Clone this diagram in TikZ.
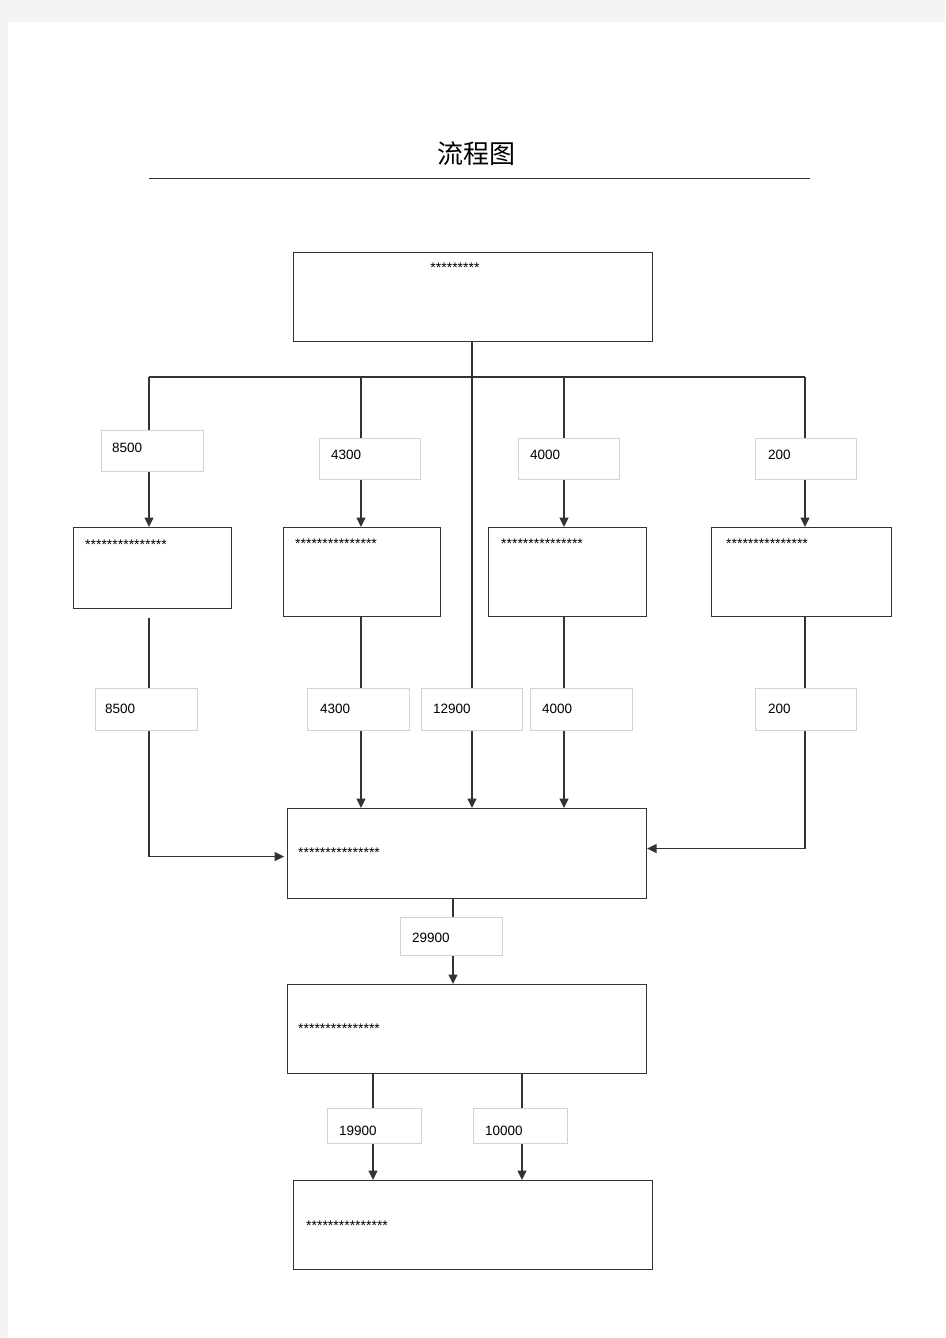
\documentclass[tikz,border=0pt]{standalone}
\usepackage{fontspec}
\setmainfont{Liberation Sans}
\newfontfamily\cjk{Noto Sans CJK SC}
\usetikzlibrary{arrows.meta,calc}
\definecolor{ln}{HTML}{333333}
\definecolor{lb}{HTML}{D2D2D2}
\definecolor{bg}{HTML}{F3F3F3}
\begin{document}
\begin{tikzpicture}[x=1pt,y=-1pt,
 box/.style={draw=ln,line width=1.1pt,anchor=north west,inner sep=0pt},
 lab/.style={draw=lb,fill=white,line width=0.9pt,anchor=north west,inner sep=0pt},
 num/.style={anchor=base west,inner sep=0pt,font=\fontsize{13.5}{15}\selectfont},
 stars/.style={anchor=base west,inner sep=0pt,font=\fontsize{14}{15}\selectfont},
 wire/.style={draw=ln,line width=1.4pt},
 arr/.style={wire,-{Triangle[length=9.5pt,width=9pt]}}]
\fill[bg] (0,0) rectangle (945,1338);
\fill[white] (8,22) rectangle (945,1338);
\useasboundingbox (0,0) rectangle (945,1338);

% title
\node[font=\cjk\fontsize{26}{28}\selectfont,inner sep=0pt] (title) at (476,154) {流程图};
\coordinate (rl) at (149,178);
\coordinate (rr) at (810,178);
\draw[ln,line width=0.9pt] (rl) -- (rr);

% boxes
\node[box,minimum width=359pt,minimum height=89pt] (top) at (293,252) {};
\node[box,minimum width=158pt,minimum height=81pt] (b1) at (73,527) {};
\node[box,minimum width=157pt,minimum height=89pt] (b2) at (283,527) {};
\node[box,minimum width=158pt,minimum height=89pt] (b3) at (488,527) {};
\node[box,minimum width=180pt,minimum height=89pt] (b4) at (711,527) {};
\node[box,minimum width=359pt,minimum height=90pt] (m) at (287,808) {};
\node[box,minimum width=359pt,minimum height=89pt] (n) at (287,984) {};
\node[box,minimum width=359pt,minimum height=89pt] (p) at (293,1180) {};

% box texts
\node[stars,anchor=base] (t0) at (455,272) {*********};
\node[stars] (t1) at (85,549) {***************};
\node[stars] (t2) at (295,548) {***************};
\node[stars] (t3) at (501,548) {***************};
\node[stars] (t4) at (726,548) {***************};
\node[stars] (t5) at (298,857) {***************};
\node[stars] (t6) at (298,1033) {***************};
\node[stars] (t7) at (306,1230) {***************};

% wires
\coordinate (j) at (472,377);
\coordinate (c1) at (149,377);
\coordinate (c2) at (361,377);
\coordinate (c3) at (564,377);
\coordinate (c4) at (805,377);
\draw[wire] (top.south -| j) -- (j);
\draw[wire] (c1) -- (c4);
\draw[arr] (c1) -- (c1 |- b1.north);
\draw[arr] (c2) -- (c2 |- b2.north);
\draw[arr] (c3) -- (c3 |- b3.north);
\draw[arr] (c4) -- (c4 |- b4.north);
\draw[arr] (j) -- (j |- m.north);

\coordinate (s1) at ($(c1 |- b1.south)+(0,9)$);
\draw[arr] (s1) |- ($(m.west)+(-3,3)$);
\draw[arr] (c2 |- b2.south) -- (c2 |- m.north);
\draw[arr] (c3 |- b3.south) -- (c3 |- m.north);
\draw[arr] (c4 |- b4.south) |- ($(m.east)+(0,-5)$);

\coordinate (x5) at (453,0);
\draw[arr] (m.south -| x5) -- (n.north -| x5);
\coordinate (x6) at (373,0);
\coordinate (x7) at (522,0);
\draw[arr] (n.south -| x6) -- (p.north -| x6);
\draw[arr] (n.south -| x7) -- (p.north -| x7);

% label boxes
\node[lab,minimum width=102pt,minimum height=41pt] (l1) at (101,430) {};
\node[lab,minimum width=101pt,minimum height=41pt] (l2) at (319,438) {};
\node[lab,minimum width=101pt,minimum height=41pt] (l3) at (518,438) {};
\node[lab,minimum width=101pt,minimum height=41pt] (l4) at (755,438) {};
\node[lab,minimum width=102pt,minimum height=42pt] (k1) at (95,688) {};
\node[lab,minimum width=102pt,minimum height=42pt] (k2) at (307,688) {};
\node[lab,minimum width=101pt,minimum height=42pt] (k3) at (421,688) {};
\node[lab,minimum width=102pt,minimum height=42pt] (k4) at (530,688) {};
\node[lab,minimum width=101pt,minimum height=42pt] (k5) at (755,688) {};
\node[lab,minimum width=102pt,minimum height=38pt] (k6) at (400,917) {};
\node[lab,minimum width=94pt,minimum height=35pt] (k7) at (327,1108) {};
\node[lab,minimum width=94pt,minimum height=35pt] (k8) at (473,1108) {};

% label texts
\node[num] (n1) at (112,452) {8500};
\node[num] (n2) at (331,459) {4300};
\node[num] (n3) at (530,459) {4000};
\node[num] (n4) at (768,459) {200};
\node[num] (n5) at (105,713) {8500};
\node[num] (n6) at (320,713) {4300};
\node[num] (n7) at (433,713) {12900};
\node[num] (n8) at (542,713) {4000};
\node[num] (n9) at (768,713) {200};
\node[num] (n10) at (412,942) {29900};
\node[num] (n11) at (339,1135) {19900};
\node[num] (n12) at (485,1135) {10000};
\end{tikzpicture}
\end{document}
